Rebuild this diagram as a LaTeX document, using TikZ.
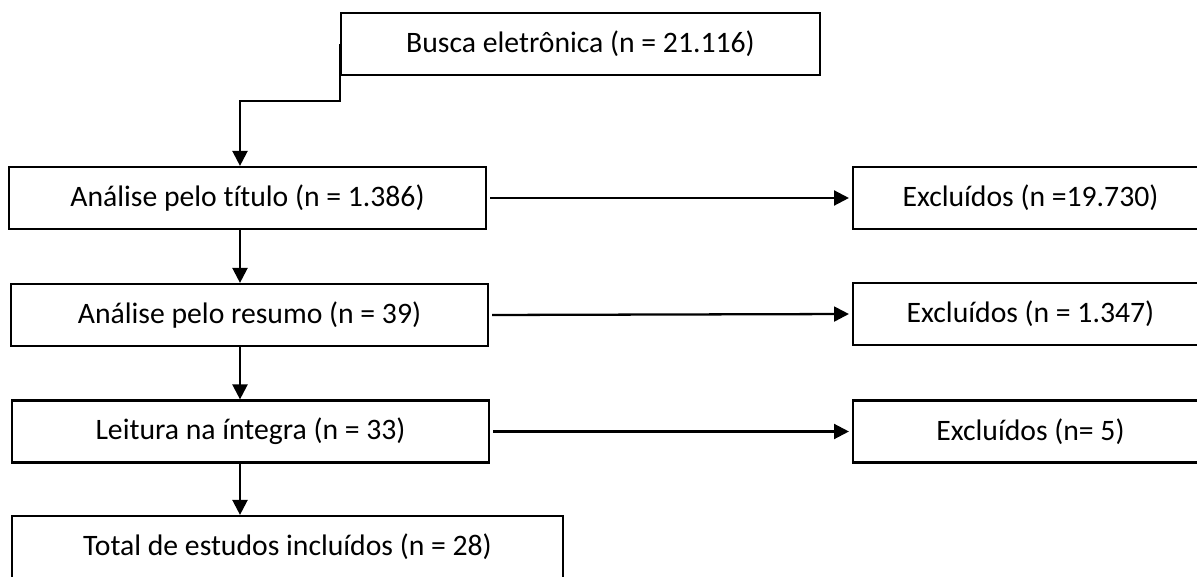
\documentclass[tikz,border=0pt]{standalone}
\usepackage{fontspec}
\setmainfont{Carlito}[Ligatures=NoCommon]
\usetikzlibrary{arrows.meta}

\tikzset{
  etapa/.style={draw, line width=1.25pt, rectangle, inner sep=0pt,
    minimum width=9.54cm, minimum height=1.24cm,
    font=\fontsize{16.9}{20}\selectfont},
  excl/.style={etapa, minimum width=7.1cm},
  seta/.style={line width=1.3pt, -{Triangle[length=8.5pt,width=8.5pt]}}
}

\begin{document}
\begin{tikzpicture}[x=0.02cm, y=-0.02cm]
        \useasboundingbox (0,0) rectangle (1197,577);
        \clip (0,0) rectangle (1197,577);
        \coordinate (spine) at (240,0);

        \node [etapa, minimum width=9.58cm] (busca) at (580.5,44) {Busca eletrônica (n = 21.116)};
        \node [etapa] (titulo) at (247.5,198) {Análise pelo título (n = 1.386)};
        \node [etapa] (resumo) at (249.5,315) {Análise pelo resumo (n = 39)};
        \node [etapa] (leitura) at (250.5,431.5) {Leitura na íntegra (n = 33)};
        \node [etapa, minimum width=11.02cm] (total) at (287.5,547) {Total de estudos incluídos (n = 28)};

        \node [excl] (excl1) at (1030.5,198) {Excluídos (n =19.730)};
        \node [excl] (excl2) at (1030.5,314) {Excluídos (n = 1.347)};
        \node [excl] (excl3) at (1030.5,431.5) {Excluídos (n= 5)};

        \coordinate (dobra) at ([yshift=-25*0.02cm]busca.south west);
        \draw [seta] (busca.west) -- (dobra) -- (dobra -| spine) -- (titulo.north -| spine);
        \draw [seta] (titulo.south -| spine) -- (resumo.north -| spine);
        \draw [seta] (resumo.south -| spine) -- (leitura.north -| spine);
        \draw [seta] (leitura.south -| spine) -- (total.north -| spine);

        \draw [seta, shorten <=1.7pt, shorten >=1.7pt] (titulo.east) -- (excl1.west);
        \draw [seta, shorten <=1.7pt, shorten >=1.7pt] (resumo.east) -- (excl2.west);
        \draw [seta, shorten <=1.7pt, shorten >=1.7pt] (leitura.east) -- (excl3.west);
      \end{tikzpicture}
\end{document}
